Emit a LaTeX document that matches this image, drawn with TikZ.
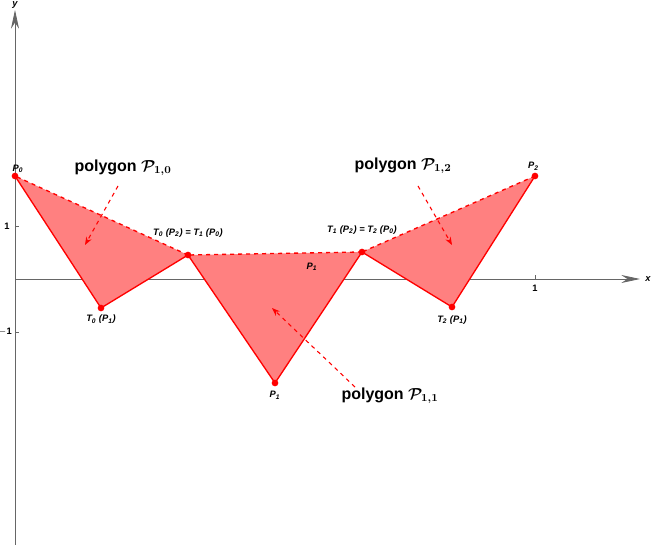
\documentclass[tikz,border=0pt]{standalone}
\usepackage{amsmath,amssymb}
\usepackage{fontspec}
\setmainfont{Liberation Sans}
\usetikzlibrary{positioning,arrows.meta}
\tikzset{
  axis/.style={gray!80!black,line width=0.6pt},
  side/.style={red,line width=1pt},
  dot/.style={circle,fill=red,inner sep=0pt,minimum size=5pt},
  lbl/.style={font=\bfseries\itshape\scriptsize,inner sep=1pt},
  plbl/.style={font=\bfseries\large},
  hint/.style={red,dashed,line width=0.8pt,-{Stealth[length=6pt]}}
}
\begin{document}
\begin{tikzpicture}[x=0.75pt,y=-0.75pt]
  \useasboundingbox (0,0) rectangle (654,545);
  % axes
  \draw[axis,-{Stealth[length=14pt,width=6pt]}] (15,279) -- (640,279);
  \draw[axis,-{Stealth[length=14pt,width=6pt]}] (15,545) -- (15,10);
  \node[lbl] at (648,279) {x};
  \node[lbl] at (15,5) {y};
  \draw[axis] (15,226) -- (19,226) (15,332) -- (19,332) (535,279) -- (535,275);
  \node[font=\scriptsize\bfseries] at (7,226) {1};
  \node[font=\scriptsize\bfseries] at (5,332) {$-$1};
  \node[font=\scriptsize\bfseries] at (535,288) {1};
  % points
  \coordinate (P0) at (15,176);
  \coordinate (A) at (101,308);
  \coordinate (B) at (188,255);
  \coordinate (P1) at (275,383);
  \coordinate (C) at (362,252);
  \coordinate (D) at (452,307);
  \coordinate (P2) at (535,176);
  % polygons
  \foreach \u/\v/\w in {P0/A/B, B/P1/C, C/D/P2}
  {
    \fill[red!50] (\u) -- (\v) -- (\w) -- cycle;
    \draw[side] (\u) -- (\v) -- (\w);
    \draw[side,dashed] (\w) -- (\u);
  }
  \foreach \p in {P0,A,B,P1,C,D,P2}
    \node[dot] at (\p) {};
  % labels
  \node[lbl,above right=1pt and -3pt of P0] {P\textsubscript{0}};
  \node[lbl,below=4pt of A] {T\textsubscript{0} (P\textsubscript{1})};
  \node[lbl,above=12pt of B] {T\textsubscript{0} (P\textsubscript{2}) = T\textsubscript{1} (P\textsubscript{0})};
  \node[lbl,below=5pt of P1] {P\textsubscript{1}};
  \node[lbl] at (312,267) {P\textsubscript{1}};
  \node[lbl,above=12pt of C] {T\textsubscript{1} (P\textsubscript{2}) = T\textsubscript{2} (P\textsubscript{0})};
  \node[lbl,below=5pt of D] {T\textsubscript{2} (P\textsubscript{1})};
  \node[lbl,above left=3pt and -4pt of P2] {P\textsubscript{2}};
  \node[plbl] (q0) at (123,168) {polygon $\boldsymbol{\mathcal{P}_{1,0}}$};
  \node[plbl] (q2) at (403,166) {polygon $\boldsymbol{\mathcal{P}_{1,2}}$};
  \node[plbl] (q1) at (390,396) {polygon $\boldsymbol{\mathcal{P}_{1,1}}$};
  \coordinate (h0) at (85,245);
  \coordinate (h2) at (452,245);
  \coordinate (h1) at (272,308);
  \draw[hint] (118,186) -- (h0);
  \draw[hint] (418,186) -- (h2);
  \draw[hint] (355,387) -- (h1);
\end{tikzpicture}
\end{document}
